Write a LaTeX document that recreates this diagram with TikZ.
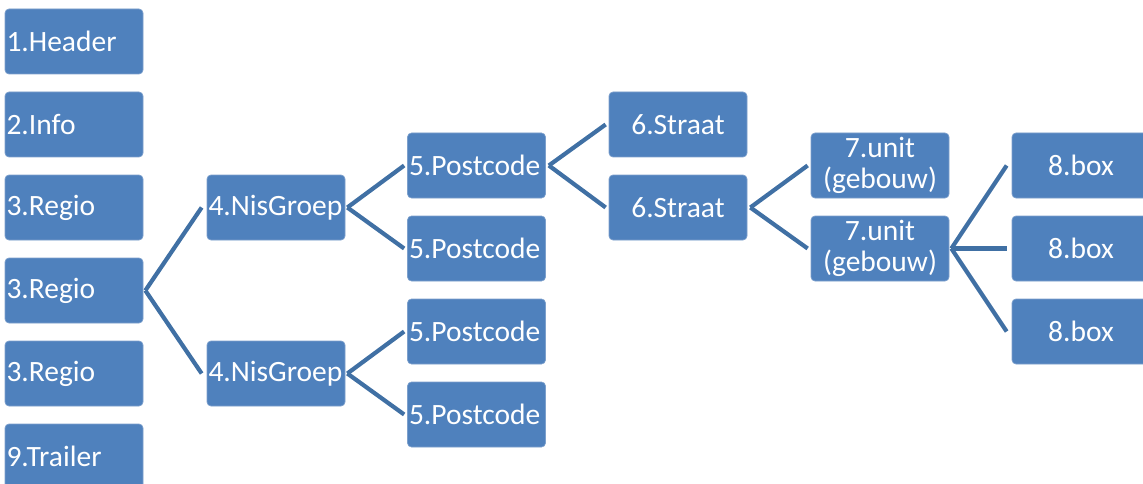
\documentclass[tikz,border=0pt]{standalone}
\usepackage{fontspec}
\setmainfont{Carlito}
\definecolor{boxfill}{HTML}{4F81BD}
\definecolor{boxline}{HTML}{7DA0CC}
\definecolor{conn}{HTML}{4070A4}
\tikzset{
  box/.style={draw=boxline, line width=0.7pt, fill=boxfill, rounded corners=4pt,
    minimum width=138pt, minimum height=65pt, inner sep=0pt, text=white,
    font=\fontsize{29.5}{30.5}\selectfont},
  lbox/.style={box, text width=135pt, align=left},
  cbox/.style={box, text width=135pt, align=center},
  conline/.style={draw=conn, line width=4.2pt},
}
\begin{document}
\begin{tikzpicture}[x=1pt,y=-1pt]
\useasboundingbox (0,0) rectangle (1143,484);
\clip (0,0) rectangle (1143,484);
% column 1
\node[lbox] (h)  at (74,41.5)  {1.Header};
\node[lbox] (i)  at (74,124.5) {2.Info};
\node[lbox] (r1) at (74,207.5) {3.Regio};
\node[lbox] (r2) at (74,290.5) {3.Regio};
\node[lbox] (r3) at (74,373.5) {3.Regio};
\node[lbox] (t)  at (74,456.5) {9.Trailer};
% column 2
\node[lbox] (n1) at (276,207.5) {4.NisGroep};
\node[lbox] (n2) at (276,373.5) {4.NisGroep};
% column 3
\node[lbox] (p1) at (476.5,165.5) {5.Postcode};
\node[lbox] (p2) at (476.5,248.5) {5.Postcode};
\node[lbox] (p3) at (476.5,331.5) {5.Postcode};
\node[lbox] (p4) at (476.5,414.5) {5.Postcode};
% column 4
\node[cbox] (s1) at (678,124.5) {6.Straat};
\node[cbox] (s2) at (678,207.5) {6.Straat};
% column 5
\node[cbox] (u1) at (880,165.5) {7.unit\\(gebouw)};
\node[cbox] (u2) at (880,248.5) {7.unit\\(gebouw)};
% column 6
\node[cbox] (b1) at (1081,165.5) {8.box};
\node[cbox] (b2) at (1081,248.5) {8.box};
\node[cbox] (b3) at (1081,331.5) {8.box};
% connectors
\draw[conline] ([xshift=2pt]r2.east) -- ([xshift=-5pt]n1.west);
\draw[conline] ([xshift=2pt]r2.east) -- ([xshift=-5pt]n2.west);
\draw[conline] ([xshift=2pt]n1.east) -- ([xshift=-3pt]p1.west);
\draw[conline] ([xshift=2pt]n1.east) -- ([xshift=-3pt]p2.west);
\draw[conline] ([xshift=2pt]n2.east) -- ([xshift=-3pt]p3.west);
\draw[conline] ([xshift=2pt]n2.east) -- ([xshift=-3pt]p4.west);
\draw[conline] ([xshift=3pt]p1.east) -- ([xshift=-3pt]s1.west);
\draw[conline] ([xshift=3pt]p1.east) -- ([xshift=-3pt]s2.west);
\draw[conline] ([xshift=3pt]s2.east) -- ([xshift=-3pt]u1.west);
\draw[conline] ([xshift=3pt]s2.east) -- ([xshift=-3pt]u2.west);
\draw[conline] ([xshift=2pt]u2.east) -- ([xshift=-5pt]b1.west);
\draw[conline] ([xshift=2pt]u2.east) -- ([xshift=-5pt]b2.west);
\draw[conline] ([xshift=2pt]u2.east) -- ([xshift=-5pt]b3.west);
\end{tikzpicture}
\end{document}
